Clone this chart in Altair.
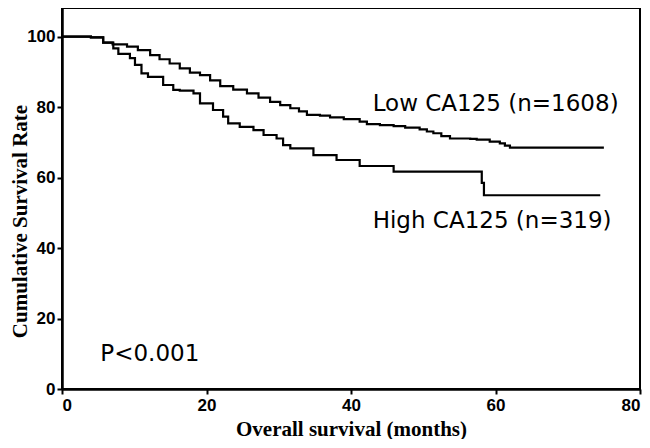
import altair as alt
import pandas as pd

# Kaplan-Meier step points (time in months, survival %)
low_t = [0, 4.0, 5.7, 7.0, 9.0, 10.5, 12.2, 13.5, 14.9, 16.3, 17.7, 19.1, 20.5, 21.9,
         23.7, 25.6, 27.2, 28.8, 30.2, 31.6, 32.8, 33.9, 35.7, 37.1, 39.0, 41.2, 42.2,
         44.0, 45.9, 47.5, 49.5, 50.5, 51.4, 52.5, 53.7, 56.5, 57.4, 59.2, 60.6, 61.3,
         62.0, 75.0]
low_s = [100, 99.8, 98.3, 97.8, 97.2, 96.2, 94.8, 93.6, 92.4, 91.0, 89.8, 89.1, 87.6, 86.0,
         85.0, 83.9, 82.7, 81.5, 80.6, 79.7, 78.8, 77.8, 77.6, 77.1, 76.6, 75.9, 75.2,
         74.9, 74.6, 74.2, 73.7, 73.1, 72.6, 71.8, 71.1, 71.0, 70.8, 70.2, 69.7, 69.1,
         68.5, 68.5]

high_t = [0, 4.0, 5.7, 7.1, 7.8, 9.4, 10.1, 11.0, 11.9, 14.0, 15.4, 16.3, 18.2, 19.1,
          20.9, 22.3, 23.0, 24.6, 26.5, 27.9, 29.7, 30.6, 31.6, 34.8, 38.0, 41.2, 45.9,
          58.1, 58.4, 74.5]
high_s = [100, 99.8, 98.3, 96.7, 95.1, 93.9, 92.0, 89.6, 88.6, 86.3, 84.9, 84.7, 83.9, 81.1,
          79.2, 77.3, 75.4, 74.4, 73.5, 72.1, 71.1, 69.2, 68.3, 66.4, 65.0, 63.3, 61.7,
          58.5, 55.0, 55.0]

x_ticks = [0, 20, 40, 60, 80]
y_ticks = [0, 20, 40, 60, 80, 100]

ann_text = ["Low CA125 (n=1608)", "High CA125 (n=319)", "P<0.001"]
ann_x = [43.0, 43.0, 5.3]
ann_y = [78.9, 45.7, 8.0]

df = pd.concat([
    pd.DataFrame({"t": low_t, "s": low_s, "group": "Low"}),
    pd.DataFrame({"t": high_t, "s": high_s, "group": "High"}),
])
ann = pd.DataFrame({"x": ann_x, "y": ann_y, "label": ann_text})

xscale = alt.Scale(domain=[0, 80], nice=False, zero=False)
yscale = alt.Scale(domain=[0, 108.15], nice=False)

axis_common = dict(
    domainColor="black", domainWidth=2.5, tickColor="black", tickWidth=2, tickSize=5,
    labelFont="Liberation Sans", labelFontWeight="bold", labelFontSize=17, labelColor="black",
    grid=False, titleFont="Liberation Serif", titleFontWeight="bold",
    titleColor="black",
)

lines = alt.Chart(df).mark_line(interpolate="step-after", color="black", strokeWidth=2.2).encode(
    x=alt.X("t:Q", scale=xscale,
            axis=alt.Axis(values=x_ticks, title="Overall survival (months)", labelPadding=3,
                          titleFontSize=21, titleY=46, titleBaseline="alphabetic",
                          **axis_common)),
    y=alt.Y("s:Q", scale=yscale,
            axis=alt.Axis(values=y_ticks, title="Cumulative Survival Rate", labelPadding=2,
                          titleFontSize=21, titleX=-36, titleY=213,
                          titleBaseline="alphabetic", titleAlign="center",
                          titleAngle=-90, **axis_common)),
    detail="group:N",
)

texts = alt.Chart(ann).mark_text(align="left", baseline="alphabetic", font="DejaVu Sans",
                                 fontSize=23, color="black").encode(
    x=alt.X("x:Q", scale=xscale),
    y=alt.Y("y:Q", scale=yscale),
    text="label:N",
)

chart = alt.layer(lines, texts).properties(
    width=578, height=381,
    autosize=alt.AutoSizeParams(type="none"),
    padding={"left": 54, "top": 0, "right": 2, "bottom": 50},
).configure_view(stroke="black", strokeWidth=2)

chart.save("out.html", embed_options={"renderer": "svg", "actions": False})
